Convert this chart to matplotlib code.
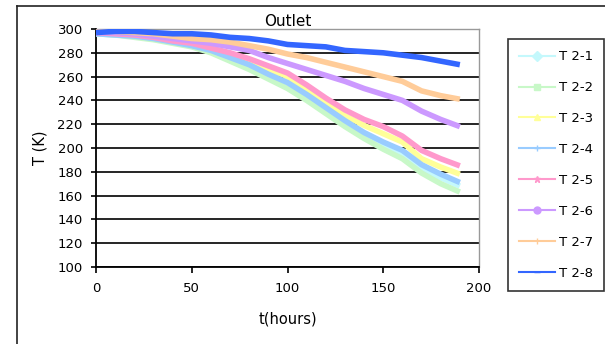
import matplotlib
matplotlib.use("Agg")
import matplotlib.pyplot as plt
from matplotlib.lines import Line2D

plt.rcParams['font.family'] = ['DejaVu Sans']

# Time in hours
hours = [0, 10, 20, 30, 40, 50, 60, 70, 80, 90, 100, 110, 120, 130, 140, 150, 160, 170, 180, 190]

# Outlet temperatures (K)
t2_1 = [296, 295, 294, 292, 289, 286, 281, 275, 268, 260, 252, 243, 232, 221, 211, 202, 195, 183, 175, 168]
t2_2 = [296, 295, 293, 291, 288, 285, 280, 273, 266, 258, 250, 240, 229, 218, 208, 199, 191, 179, 170, 163]
t2_3 = [298, 297, 295, 293, 290, 287, 283, 278, 272, 266, 260, 250, 238, 227, 219, 212, 205, 191, 184, 178]
t2_4 = [296, 295, 294, 292, 289, 286, 282, 276, 270, 262, 255, 245, 234, 223, 213, 205, 198, 186, 178, 171]
t2_5 = [297, 296, 295, 293, 290, 288, 284, 280, 275, 269, 263, 253, 242, 232, 224, 218, 210, 198, 191, 185]
t2_6 = [297, 297, 296, 294, 292, 290, 288, 285, 282, 276, 271, 266, 261, 256, 250, 245, 240, 231, 224, 218]
t2_7 = [298, 298, 297, 296, 294, 292, 291, 289, 286, 283, 279, 276, 272, 268, 264, 260, 256, 248, 244, 241]
t2_8 = [297, 298, 298, 297, 296, 296, 295, 293, 292, 290, 287, 286, 285, 282, 281, 280, 278, 276, 273, 270]

labels = ["T 2-1", "T 2-2", "T 2-3", "T 2-4", "T 2-5", "T 2-6", "T 2-7", "T 2-8"]
series = [t2_1, t2_2, t2_3, t2_4, t2_5, t2_6, t2_7, t2_8]
colors = ["#C4F8FC", "#C8F8C8", "#FFFF99", "#99CCFF", "#FF99CC", "#CC99FF", "#FFCC99", "#3366FF"]
markers = ["D", "s", "^", "+", "*", "o", "|", "_"]

W, H = 605, 344
fig = plt.figure(figsize=(W / 100, H / 100), dpi=100)

# Chart area frame (only top and left edges fall inside the image)
fig.add_artist(Line2D([17 / W, 17 / W], [0, 1 - 6 / H], transform=fig.transFigure,
                      color="#222222", lw=1.2))
fig.add_artist(Line2D([17 / W, 1], [1 - 6 / H, 1 - 6 / H], transform=fig.transFigure,
                      color="#222222", lw=1.2))

ax = fig.add_axes([96 / W, 1 - 267 / H, (479 - 96) / W, (267 - 29) / H])

for vals, c in zip(series, colors):
    ax.plot(hours, vals, color=c, lw=4.0, solid_capstyle="butt", zorder=3)

ax.set_xlim(0, 200)
ax.set_ylim(100, 300)
ax.set_xticks(range(0, 201, 50))
ax.set_yticks(range(100, 301, 20))
ax.yaxis.grid(True, color="black", lw=1.2, zorder=1)
ax.set_axisbelow(True)

for s in ["top", "right"]:
    ax.spines[s].set_color("#999999")
    ax.spines[s].set_linewidth(1.0)
for s in ["left", "bottom"]:
    ax.spines[s].set_color("black")
    ax.spines[s].set_linewidth(1.3)

ax.tick_params(axis="x", direction="out", length=4, width=1.2, pad=7, labelsize=9.5)
ax.tick_params(axis="y", direction="out", length=3.5, width=1.2, pad=6, labelsize=9.5)

ax.set_title("Outlet", fontsize=11, pad=-1)
ax.set_xlabel("t(hours)", fontsize=10.5, labelpad=12)
ax.set_ylabel("T (K)", fontsize=10.5, labelpad=7)

handles = [Line2D([0], [0], color=c, lw=1.5, marker=m, markersize=5,
                  markeredgecolor=c, markerfacecolor=c)
           for c, m in zip(colors, markers)]
leg = fig.legend(handles, labels, loc="upper left",
                 bbox_to_anchor=(508 / W, 1 - 39 / H), fontsize=9.5,
                 frameon=True, fancybox=False, edgecolor="black",
                 labelspacing=1.36, handlelength=2.7, handletextpad=0.3,
                 borderpad=0.85, borderaxespad=0)
leg.get_frame().set_linewidth(1.2)

fig.savefig("out.png", dpi=100)
